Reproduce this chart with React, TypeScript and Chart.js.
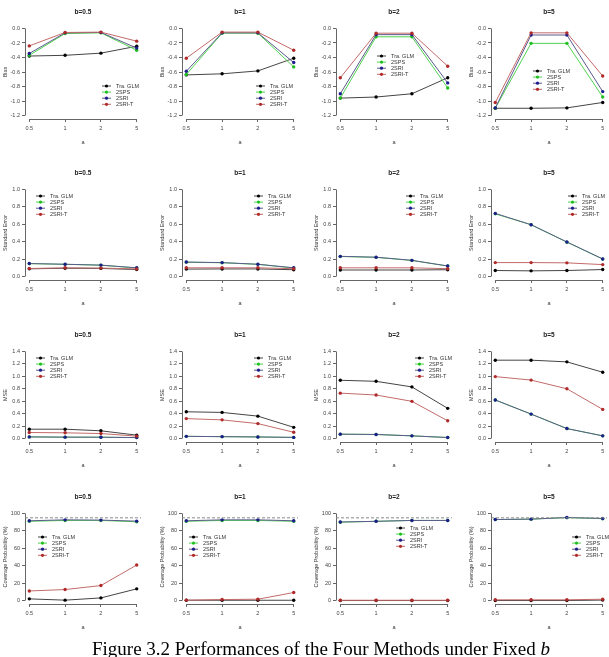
import React, { useEffect, useRef } from "react";
import { Chart, registerables } from "chart.js";
Chart.register(...registerables);

// ---------- data ----------
const aLabels = ["0.5", "1", "2", "5"];
const bTitles = ["b=0.5", "b=1", "b=2", "b=5"];
const seriesNames = ["Tra. GLM", "2SPS", "2SRI", "2SRI-T"];
const metricTitles = ["Bias", "Standard Error", "MSE", "Coverage Probability (%)"];

// Bias (rows: b=0.5, 1, 2, 5; columns: a=0.5, 1, 2, 5)
const biasTra = [[-0.38, -0.37, -0.34, -0.245], [-0.64, -0.625, -0.585, -0.41], [-0.96, -0.945, -0.9, -0.68], [-1.1, -1.1, -1.095, -1.02]];
const bias2SPS = [[-0.37, -0.07, -0.06, -0.3], [-0.635, -0.065, -0.065, -0.53], [-0.96, -0.115, -0.115, -0.82], [-1.1, -0.205, -0.205, -0.945]];
const bias2SRI = [[-0.345, -0.06, -0.055, -0.27], [-0.59, -0.06, -0.06, -0.47], [-0.9, -0.085, -0.085, -0.75], [-1.095, -0.09, -0.09, -0.87]];
const bias2SRIT = [[-0.24, -0.055, -0.05, -0.175], [-0.41, -0.05, -0.05, -0.3], [-0.68, -0.065, -0.065, -0.52], [-1.02, -0.06, -0.06, -0.655]];

// Standard Error
const seTra = [[0.088, 0.095, 0.093, 0.08], [0.085, 0.087, 0.087, 0.078], [0.075, 0.075, 0.075, 0.078], [0.069, 0.065, 0.069, 0.08]];
const se2SPS = [[0.148, 0.14, 0.13, 0.098], [0.165, 0.158, 0.14, 0.098], [0.23, 0.22, 0.185, 0.12], [0.72, 0.595, 0.395, 0.2]];
const se2SRI = [[0.149, 0.141, 0.131, 0.1], [0.166, 0.16, 0.141, 0.1], [0.232, 0.222, 0.186, 0.121], [0.725, 0.595, 0.397, 0.202]];
const se2SRIT = [[0.092, 0.1, 0.097, 0.087], [0.1, 0.1, 0.1, 0.09], [0.1, 0.1, 0.1, 0.09], [0.16, 0.16, 0.157, 0.137]];

// MSE
const mseTra = [[0.15, 0.15, 0.124, 0.054], [0.43, 0.42, 0.36, 0.18], [0.937, 0.92, 0.83, 0.485], [1.26, 1.26, 1.233, 1.066]];
const mse2SPS = [[0.026, 0.022, 0.021, 0.015], [0.035, 0.03, 0.025, 0.018], [0.07, 0.065, 0.043, 0.016], [0.62, 0.393, 0.16, 0.043]];
const mse2SRI = [[0.026, 0.022, 0.021, 0.015], [0.035, 0.03, 0.025, 0.018], [0.07, 0.065, 0.043, 0.016], [0.62, 0.393, 0.16, 0.043]];
const mse2SRIT = [[0.097, 0.092, 0.08, 0.038], [0.32, 0.3, 0.24, 0.1], [0.73, 0.7, 0.598, 0.285], [0.996, 0.94, 0.8, 0.468]];

// Coverage Probability (%)
const cpTra = [[1.9, 0.4, 3.0, 13.4], [0.3, 0.3, 0.3, 0.3], [0, 0, 0, 0], [0, 0, 0, 0.5]];
const cp2SPS = [[91, 92, 92, 90.5], [91, 92, 92, 91], [90, 91, 92, 92], [93, 93.5, 95.2, 94]];
const cp2SRI = [[91.6, 92.7, 92.4, 91.2], [91.6, 92.7, 92.7, 91.6], [90.2, 91, 92, 92], [93.1, 93.5, 95.4, 94.3]];
const cp2SRIT = [[11, 12.6, 17.2, 40.8], [0.4, 1.1, 1.5, 9.2], [0.3, 0.3, 0.3, 0.3], [0.8, 0.8, 0.8, 1.5]];

const nominalCP = 95;

const biasTicks = [-1.2, -1.0, -0.8, -0.6, -0.4, -0.2, 0.0];
const seTicks = [0.0, 0.2, 0.4, 0.6, 0.8, 1.0];
const mseTicks = [0.0, 0.2, 0.4, 0.6, 0.8, 1.0, 1.2, 1.4];
const cpTicks = [0, 20, 40, 60, 80, 100];

// ---------- styling ----------
const FONT = "'Liberation Sans', Arial, sans-serif";
const lineColors = ["#444444", "#4fd34f", "#5a5a8c", "#c46a6a"];
const pointColors = ["#000000", "#1fbf1f", "#1c1c8c", "#b02a2a"];

const metrics = [
  { series: [biasTra, bias2SPS, bias2SRI, bias2SRIT], ticks: biasTicks, digits: 1, ref: null },
  { series: [seTra, se2SPS, se2SRI, se2SRIT], ticks: seTicks, digits: 1, ref: null },
  { series: [mseTra, mse2SPS, mse2SRI, mse2SRIT], ticks: mseTicks, digits: 1, ref: null },
  { series: [cpTra, cp2SPS, cp2SRI, cp2SRIT], ticks: cpTicks, digits: 0, ref: nominalCP },
];

const colLefts = [0, 157, 311, 466];
const rowTops = [0, 161, 323, 485];
const PW = 145;
const PH = 161;

// legend anchor (line start x, first row y) per panel, in panel pixels
const legendPos = [
  [{ x: 102, y: 86 }, { x: 99, y: 86 }, { x: 66, y: 56 }, { x: 67, y: 71 }],
  [{ x: 36, y: 35 }, { x: 97, y: 35 }, { x: 95, y: 35 }, { x: 102, y: 35 }],
  [{ x: 36, y: 35 }, { x: 97, y: 35 }, { x: 104, y: 35 }, null],
  [{ x: 38, y: 52 }, { x: 32, y: 52 }, { x: 85, y: 43 }, { x: 106, y: 52 }],
];

const rStyle = {
  id: "rStyle",
  afterDraw(chart: any, _args: any, opts: any) {
    const ctx = chart.ctx;
    const ca = chart.chartArea;
    const xs = chart.scales.x;
    const ys = chart.scales.y;
    ctx.save();
    // title
    ctx.fillStyle = "#222";
    ctx.font = `bold 6.5px ${FONT}`;
    ctx.textAlign = "center";
    ctx.textBaseline = "middle";
    ctx.fillText(opts.title, (ca.left + ca.right) / 2, 12);
    // axis lines (R style, from first to last tick)
    ctx.strokeStyle = "#666";
    ctx.lineWidth = 1;
    ctx.beginPath();
    const xt = xs.ticks;
    ctx.moveTo(xs.getPixelForValue(xt[0].value), ca.bottom + 0.5);
    ctx.lineTo(xs.getPixelForValue(xt[xt.length - 1].value), ca.bottom + 0.5);
    const yt = ys.ticks;
    ctx.moveTo(ca.left + 0.5, ys.getPixelForValue(yt[0].value));
    ctx.lineTo(ca.left + 0.5, ys.getPixelForValue(yt[yt.length - 1].value));
    ctx.stroke();
    // reference line
    if (opts.ref !== null && opts.ref !== undefined) {
      const y = ys.getPixelForValue(opts.ref);
      ctx.strokeStyle = "#8a8a8a";
      ctx.setLineDash([3, 2]);
      ctx.beginPath();
      ctx.moveTo(ca.left, y);
      ctx.lineTo(ca.right, y);
      ctx.stroke();
      ctx.setLineDash([]);
    }
    // legend
    if (opts.legend) {
      const { x, y } = opts.legend;
      ctx.font = `5.5px ${FONT}`;
      ctx.textAlign = "left";
      ctx.textBaseline = "middle";
      chart.data.datasets.forEach((ds: any, i: number) => {
        const yy = y + i * 6.1;
        ctx.strokeStyle = ds.borderColor;
        ctx.lineWidth = 1;
        ctx.beginPath();
        ctx.moveTo(x, yy);
        ctx.lineTo(x + 9, yy);
        ctx.stroke();
        ctx.fillStyle = ds.pointBackgroundColor;
        ctx.beginPath();
        ctx.arc(x + 4.5, yy, 1.6, 0, Math.PI * 2);
        ctx.fill();
        ctx.fillStyle = "#333";
        ctx.fillText(ds.label, x + 14, yy);
      });
    }
    ctx.restore();
  },
};

function Panel({ m, b }: { m: number; b: number }) {
  const ref = useRef<HTMLCanvasElement>(null);
  useEffect(() => {
    const met = metrics[m];
    const ticks = met.ticks;
    const lo = ticks[0];
    const hi = ticks[ticks.length - 1];
    const pad = (hi - lo) * 0.04;
    const chart = new Chart(ref.current as HTMLCanvasElement, {
      type: "line",
      data: {
        datasets: seriesNames.map((name, s) => ({
          label: name,
          data: met.series[s][b].map((v: number, i: number) => ({ x: i + 1, y: v })),
          borderColor: lineColors[s],
          backgroundColor: pointColors[s],
          pointBackgroundColor: pointColors[s],
          pointBorderColor: pointColors[s],
          pointRadius: 1.7,
          pointBorderWidth: 0,
          borderWidth: 1,
          tension: 0,
          fill: false,
          order: 4 - s,
        })),
      },
      options: {
        animation: false,
        responsive: false,
        layout: { padding: { top: 25, right: 4, left: 0, bottom: 0 } },
        plugins: {
          legend: { display: false },
          tooltip: { enabled: false },
          title: { display: false },
          rStyle: { title: bTitles[b], legend: legendPos[m][b], ref: met.ref },
        } as any,
        scales: {
          x: {
            type: "linear",
            min: 0.88,
            max: 4.12,
            afterBuildTicks: (axis: any) => {
              axis.ticks = aLabels.map((_l, i) => ({ value: i + 1 }));
            },
            afterFit: (axis: any) => {
              axis.height = 42;
            },
            ticks: {
              autoSkip: false,
              maxRotation: 0,
              padding: 3,
              color: "#444",
              font: { family: FONT, size: 5.5 },
              callback: (_v: any, i: number) => aLabels[i],
            },
            grid: { display: true, drawOnChartArea: false, drawTicks: true, tickLength: 3, color: "#666" },
            border: { display: false },
            title: {
              display: true,
              text: "a",
              color: "#333",
              font: { family: FONT, size: 5.5 },
              padding: { top: 0, bottom: 15 },
            },
          },
          y: {
            type: "linear",
            min: lo - pad,
            max: hi + pad,
            afterBuildTicks: (axis: any) => {
              axis.ticks = ticks.map((v) => ({ value: v }));
            },
            afterFit: (axis: any) => {
              axis.width = 25;
            },
            ticks: {
              autoSkip: false,
              padding: 2,
              color: "#444",
              font: { family: FONT, size: 5.5 },
              callback: (v: any) => Number(v).toFixed(met.digits),
            },
            grid: { display: true, drawOnChartArea: false, drawTicks: true, tickLength: 3, color: "#666" },
            border: { display: false },
            title: {
              display: true,
              text: metricTitles[m],
              color: "#333",
              font: { family: FONT, size: 5.5 },
              padding: { top: 2, bottom: 0 },
            },
          },
        },
      } as any,
      plugins: [rStyle as any],
    });
    return () => chart.destroy();
  }, [m, b]);
  return (
    <canvas
      ref={ref}
      width={PW}
      height={PH}
      style={{ position: "absolute", left: colLefts[b], top: rowTops[m], width: PW, height: PH }}
    />
  );
}

export default function App() {
  return (
    <div
      style={{
        position: "absolute",
        left: 0,
        top: 0,
        width: 609,
        height: 657,
        overflow: "hidden",
        background: "#fff",
      }}
    >
      {metrics.map((_mt, m) => bTitles.map((_bt, b) => <Panel key={`${m}-${b}`} m={m} b={b} />))}
      <div
        style={{
          position: "absolute",
          left: 92,
          top: 639,
          whiteSpace: "nowrap",
          fontFamily: "'Liberation Serif', 'Times New Roman', serif",
          fontSize: 19,
          lineHeight: "19px",
          color: "#000",
        }}
      >
        Figure 3.2 Performances of the Four Methods under Fixed <i>b</i>
      </div>
    </div>
  );
}
